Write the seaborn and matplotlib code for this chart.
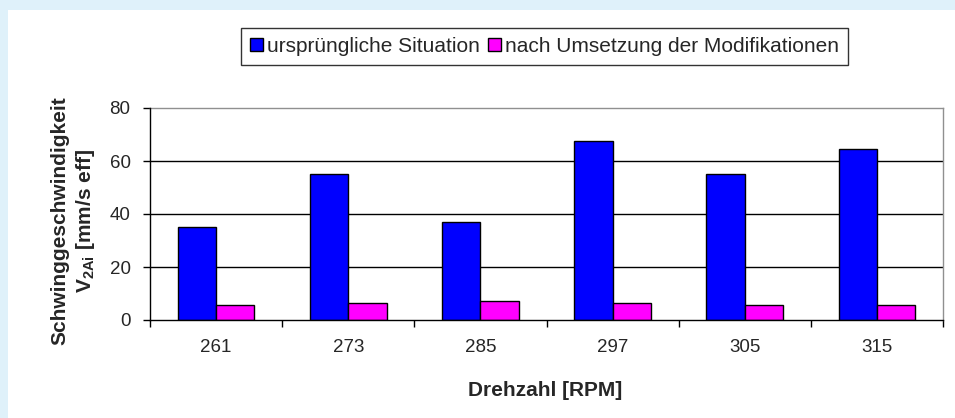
import matplotlib
matplotlib.use("Agg")
import matplotlib.pyplot as plt
import seaborn as sns
import pandas as pd
from matplotlib.patches import Rectangle

categories = ["261", "273", "285", "297", "305", "315"]
orig_values = [35, 55.2, 37, 67.4, 55.2, 64.6]
mod_values = [5.8, 6.5, 7.2, 6.5, 5.8, 5.8]
series_names = ["ursprüngliche Situation", "nach Umsetzung der Modifikationen"]
y_ticks = [0, 20, 40, 60, 80]

df = pd.DataFrame({
    "Drehzahl": categories * 2,
    "Wert": orig_values + mod_values,
    "Serie": [series_names[0]] * len(categories) + [series_names[1]] * len(categories),
})

sns.set_theme(style="white")
plt.rcParams["font.family"] = ["Liberation Sans", "DejaVu Sans"]
plt.rcParams["mathtext.fontset"] = "custom"
plt.rcParams["mathtext.bf"] = "Liberation Sans:bold"
plt.rcParams["mathtext.rm"] = "Liberation Sans:bold"
plt.rcParams["mathtext.default"] = "bf"

W, H = 955, 418
fig = plt.figure(figsize=(W / 100, H / 100), dpi=100, facecolor="white")

# light blue frame at top and left
fig.patches.append(Rectangle((0, 1 - 10 / H), 1, 10 / H, transform=fig.transFigure,
                             facecolor="#dff1fa", edgecolor="none", zorder=-10))
fig.patches.append(Rectangle((0, 0), 8 / W, 1, transform=fig.transFigure,
                             facecolor="#dff1fa", edgecolor="none", zorder=-10))

left, right, top, bottom = 150, 943, 108, 320
ax = fig.add_axes([left / W, 1 - bottom / H, (right - left) / W, (bottom - top) / H])

palette = {series_names[0]: "#0000ff", series_names[1]: "#ff00ff"}
sns.barplot(data=df, x="Drehzahl", y="Wert", hue="Serie", order=categories,
            hue_order=series_names, palette=palette, width=0.58, gap=0,
            edgecolor="black", linewidth=1.0, saturation=1, ax=ax, legend=False, zorder=3)

ax.set_ylim(0, 80)
ax.set_xlim(-0.5, len(categories) - 0.5)
ax.set_yticks(y_ticks)
for v in y_ticks[1:-1]:
    ax.axhline(v, color="black", linewidth=1.0, zorder=1)

ax.spines["left"].set_color("black")
ax.spines["bottom"].set_color("black")
ax.spines["top"].set_color("#909090")
ax.spines["right"].set_color("#909090")
for s in ax.spines.values():
    s.set_linewidth(1.0)
ax.spines["left"].set_zorder(5)
ax.spines["bottom"].set_zorder(5)

ax.tick_params(axis="y", which="major", direction="out", length=5, width=1, color="black",
               labelsize=13.5, pad=9, left=True)
ax.tick_params(axis="x", which="major", length=0, labelsize=13.5, pad=14)
ax.set_xticks([i - 0.5 for i in range(len(categories) + 1)], minor=True)
ax.tick_params(axis="x", which="minor", direction="out", length=5, width=1, color="black", bottom=True)
ax.set_xlabel("")
ax.set_ylabel("")

fig.text(545 / W, 1 - 391 / H, "Drehzahl [RPM]", ha="center", va="center",
         fontsize=15, fontweight="bold")
fig.text(74 / W, 1 - 221 / H, "Schwinggeschwindigkeit\nV$_{2Ai}$ [mm/s eff]", ha="center", va="center",
         rotation=90, fontsize=15, fontweight="bold", multialignment="center", linespacing=1.25)

handles = [Rectangle((0, 0), 1, 1, facecolor=palette[n], edgecolor="black", linewidth=1) for n in series_names]
leg = fig.legend(handles, series_names, loc="center", bbox_to_anchor=(544.5 / W, 1 - 46.5 / H),
                 ncol=2, frameon=True, fontsize=15, handlelength=0.6, handleheight=0.6,
                 handletextpad=0.2, columnspacing=0.4, borderpad=0.45, borderaxespad=0,
                 fancybox=False)
leg.get_frame().set_edgecolor("black")
leg.get_frame().set_linewidth(1.0)

fig.savefig("out.png", dpi=100, facecolor="white")
